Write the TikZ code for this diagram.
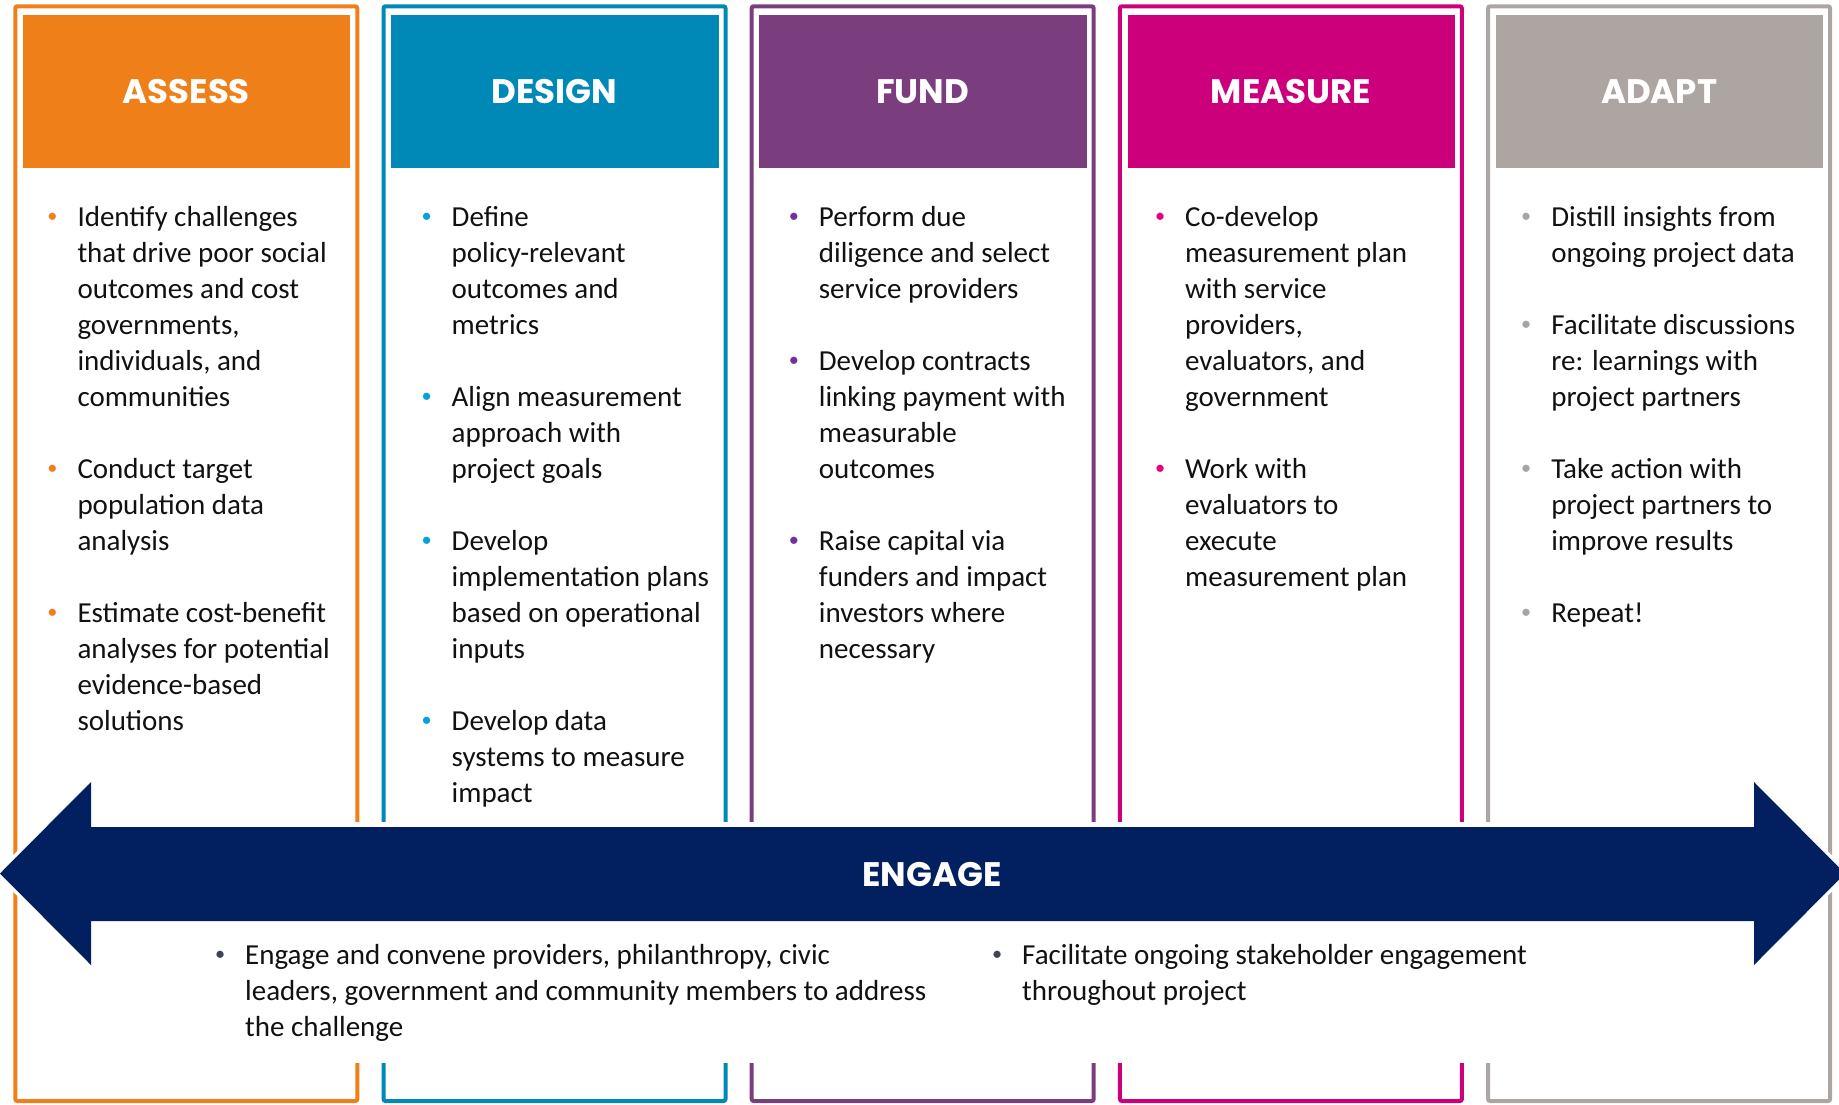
\documentclass[tikz,border=0pt]{standalone}
\usepackage{fontspec}
\setmainfont{Carlito}
\newfontfamily\headfont{Poppins}
\usepackage{tikz}
\definecolor{assessC}{HTML}{EF8019}
\definecolor{designC}{HTML}{0089B6}
\definecolor{fundC}{HTML}{7A3E7F}
\definecolor{measureC}{HTML}{CC007A}
\definecolor{adaptC}{HTML}{ADA5A2}
%% bullet colours
\definecolor{assessB}{HTML}{EF8019}
\definecolor{designB}{HTML}{00A3E0}
\definecolor{fundB}{HTML}{7030A0}
\definecolor{measureB}{HTML}{E6007E}
\definecolor{adaptB}{HTML}{A5A5A5}
\definecolor{engageC}{HTML}{02205F}
\definecolor{engageB}{HTML}{404556}
\definecolor{txt}{HTML}{111111}
\def\colW{342}
\def\colStep{368.2}
\def\bc{txt}
\def\bl{\llap{\textcolor{\bc}{\raisebox{4pt}{\scalebox{.7}{\textbullet}}}\hspace{20pt}}}
\def\assessItems{\bl Identify challenges\\ that drive poor social\\ outcomes and cost\\ governments,\\ individuals, and\\ communities\\ \\
  \bl Conduct target\\ population data\\ analysis\\ \\
  \bl Estimate cost-benefit\\ analyses for potential\\ evidence-based\\ solutions}
\def\designItems{\bl Define\\ policy-relevant\\ outcomes and\\ metrics\\ \\
  \bl Align measurement\\ approach with\\ project goals\\ \\
  \bl Develop\\ implementation plans\\ based on operational\\ inputs\\ \\
  \bl Develop data\\ systems to measure\\ impact}
\def\fundItems{\bl Perform due\\ diligence and select\\ service providers\\ \\
  \bl Develop contracts\\ linking payment with\\ measurable\\ outcomes\\ \\
  \bl Raise capital via\\ funders and impact\\ investors where\\ necessary}
\def\measureItems{\bl Co-develop\\ measurement plan\\ with service\\ providers,\\ evaluators, and\\ government\\ \\
  \bl Work with\\ evaluators to\\ execute\\ measurement plan}
\def\adaptItems{\bl Distill insights from\\ ongoing project data\\ \\
  \bl Facilitate discussions\\ re: learnings with\\ project partners\\ \\
  \bl Take action with\\ project partners to\\ improve results\\ \\
  \bl Repeat!}
\def\engagePath{(0,873.5) -- (91,782) -- (91,827) -- (1754,827) -- (1754,782) -- (1845,873.5)
  -- (1754,965) -- (1754,921) -- (91,921) -- (91,965) -- cycle}
\tikzset{
  coltxt/.style={font=\fontsize{29}{36}\selectfont, text=txt, inner sep=0pt, anchor=base west},
  headtxt/.style={font=\headfont\bfseries\fontsize{34}{40}\selectfont, text=white, inner sep=0pt}
}

\begin{document}
\begin{tikzpicture}[x=1pt, y=-1pt]
  \useasboundingbox (0,0) rectangle (1839,1104);
  \foreach \i/\nm/\key/\dx in {0/ASSESS/assess/62, 1/DESIGN/design/68, 2/FUND/fund/67, 3/MEASURE/measure/65, 4/ADAPT/adapt/63}{
    \pgfmathsetmacro\x{15.3+\i*\colStep}
    \edef\cc{\key C}
    \edef\bc{\key B}
    \draw[\cc, line width=4pt, rounded corners=2pt] (\x,6.3) rectangle (\x+\colW,1101);
    \fill[\cc] (\x+7.7,15) rectangle (\x+335,168);
    \node[headtxt] (hd-\key) at (\x+171,92) {\nm};
    \node[coltxt] (txt-\key) at (\x+\dx,226) {\begin{tabular}[t]{@{}l@{}}\csname\key Items\endcsname\end{tabular}};
  }
  %% engage band
  \fill[white] (91,822) rectangle (1754,1063);
  \draw[white, line width=7pt, line join=miter] \engagePath;
  \fill[engageC] \engagePath;
  \node[headtxt] (engage) at (932,874) {ENGAGE};
  \def\bc{engageB}
  \node[coltxt] (eng-l) at (245,964) {\begin{tabular}[t]{@{}l@{}}\bl Engage and convene providers, philanthropy, civic\\ leaders, government and community members to address\\ the challenge\end{tabular}};
  \node[coltxt] (eng-r) at (1022,964) {\begin{tabular}[t]{@{}l@{}}\bl Facilitate ongoing stakeholder engagement\\ throughout project\end{tabular}};
\end{tikzpicture}
\end{document}
